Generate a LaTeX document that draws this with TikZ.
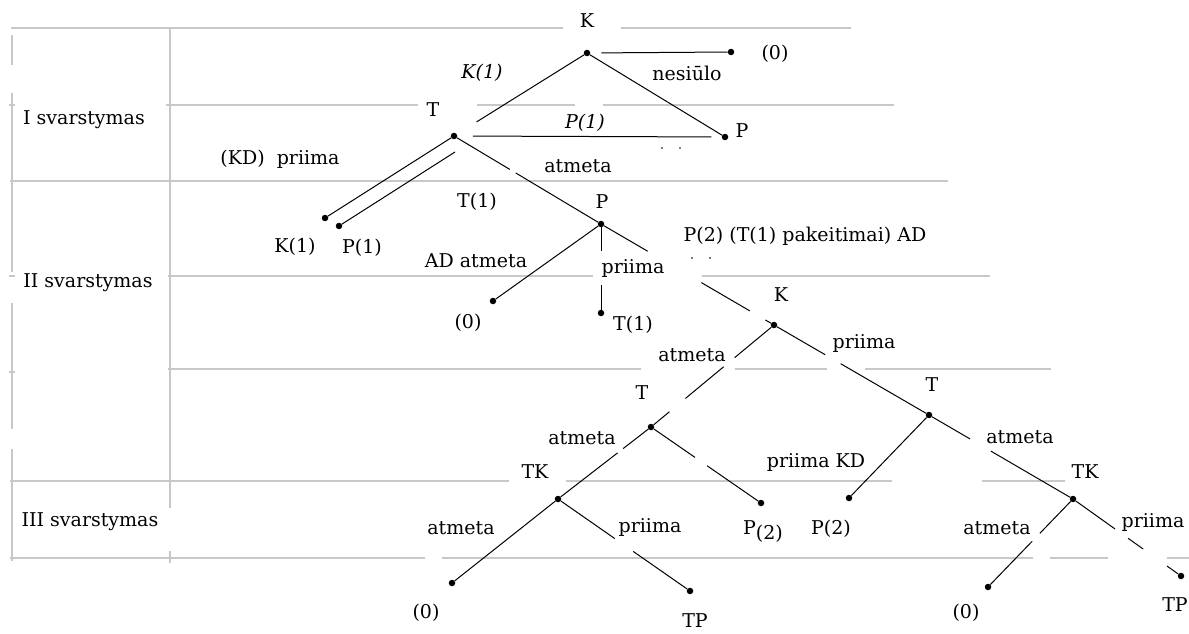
\documentclass[tikz,border=0pt]{standalone}
\usepackage{fontspec}
\setmainfont{DejaVu Serif}
\usetikzlibrary{calc}
\definecolor{gridgray}{RGB}{200,200,200}
\begin{document}
\begin{tikzpicture}[x=1pt,y=-1pt,
  gridln/.style={draw=gridgray, line width=1.4pt},
  edge/.style={draw=black, line width=1pt},
  dotn/.style={circle, fill=black, inner sep=0pt, minimum size=6.5pt},
  lbl/.style={inner sep=1pt, font=\fontsize{19}{22}\selectfont},
  ilbl/.style={lbl, font=\fontsize{19}{22}\selectfont\itshape},
  tiny/.style={circle, fill=black, inner sep=0pt, minimum size=1.8pt}]
\useasboundingbox (0,0) rectangle (1189,634);
\fill[white] (0,0) rectangle (1189,634);
% grid
\draw[gridln] (11,28)--(563,28) (621,28)--(851,28);
\draw[gridln] (166,105)--(418,105) (477,105)--(575,105) (603,105)--(894,105);
\draw[gridln] (10,181)--(948,181);
\draw[gridln] (168,276)--(593,276) (702,276)--(990,276);
\draw[gridln] (168,369)--(641,369) (735,369)--(827,369) (865,369)--(1051,369);
\draw[gridln, line width=2.4pt] (340,369)--(367,369) (404,369)--(478,369);
\draw[gridln] (10,481)--(509,481) (566,481)--(892,481) (982,481)--(1065,481);
\draw[gridln] (10,558)--(425,558) (442,558)--(1033,558) (1050,558)--(1108,558) (1167,558)--(1189,558);
\draw[gridln] (12,35)--(12,65) (12,93)--(12,272) (12,303)--(12,429) (12,449)--(12,561);
\draw[gridln] (170,28)--(170,508) (170,551)--(170,563);
\draw[gridln] (9,105)--(15,105) (9,276)--(15,276) (9,372)--(15,372);
% dots (nodes)
\node[dotn] (K1) at (587,53) {};
\node[dotn] (Z1) at (731,52) {};
\node[dotn] (P1) at (725,137) {};
\node[dotn] (T1) at (454,136) {};
\node[dotn] (K1a) at (325,218) {};
\node[dotn] (P1a) at (339,226) {};
\coordinate (T1s) at (455,152);
\node[dotn] (P2) at (601,224) {};
\node[dotn] (Z2) at (493,301) {};
\node[dotn] (T1b) at (601,313) {};
\node[dotn] (K2) at (774,325) {};
\node[dotn] (T2) at (651,427) {};
\node[dotn] (T3) at (929,415) {};
\node[dotn] (TK1) at (558,499) {};
\node[dotn] (P2a) at (761,503) {};
\node[dotn] (P2b) at (849,498) {};
\node[dotn] (TK2) at (1073,499) {};
\node[dotn] (Z3) at (452,583) {};
\node[dotn] (TP1) at (690,591) {};
\node[dotn] (Z4) at (988,587) {};
\node[dotn] (TP2) at (1181,576) {};
% edges
\draw[edge] (K1) -- ($(K1)!0.83!(T1)$);
\draw[edge] ($(K1)!0.1!(Z1)$) -- (Z1);
\draw[edge] (K1) -- (P1);
\draw[edge] ($(T1)!0.07!(P1)$) -- ($(T1)!0.95!(P1)$);
\draw[edge] (T1) -- (K1a);
\draw[edge] (T1s) -- (P1a);
\draw[edge] (T1) -- ($(T1)!0.38!(P2)$) ($(T1)!0.42!(P2)$) -- (P2);
\draw[edge] (P2) -- (Z2);
\draw[edge] (P2) -- ($(P2)!0.30!(T1b)$) ($(P2)!0.685!(T1b)$) -- (T1b);
\draw[edge] (P2) -- ($(P2)!0.27!(K2)$) ($(P2)!0.58!(K2)$) -- ($(P2)!0.86!(K2)$) ($(P2)!0.95!(K2)$) -- (K2);
\draw[edge] (K2) -- ($(K2)!0.32!(T2)$) ($(K2)!0.41!(T2)$) -- ($(K2)!0.72!(T2)$) ($(K2)!0.85!(T2)$) -- (T2);
\draw[edge] (K2) -- ($(K2)!0.33!(T3)$) ($(K2)!0.43!(T3)$) -- (T3);
\draw[edge] (T2) -- ($(T2)!0.3!(TK1)$) ($(T2)!0.36!(TK1)$) -- (TK1);
\draw[edge] (T2) -- ($(T2)!0.4!(P2a)$) ($(T2)!0.51!(P2a)$) -- (P2a);
\draw[edge] (T3) -- (P2b);
\draw[edge] (T3) -- ($(T3)!0.285!(TK2)$) ($(T3)!0.43!(TK2)$) -- (TK2);
\draw[edge] (TK1) -- (Z3);
\draw[edge] (TK1) -- ($(TK1)!0.43!(TP1)$) ($(TK1)!0.57!(TP1)$) -- (TP1);
\draw[edge] (TK2) -- ($(TK2)!0.39!(Z4)$) ($(TK2)!0.48!(Z4)$) -- (Z4);
\draw[edge] (TK2) -- ($(TK2)!0.39!(TP2)$) ($(TK2)!0.51!(TP2)$) -- ($(TK2)!0.65!(TP2)$) ($(TK2)!0.87!(TP2)$) -- (TP2);
% small dots
\node[tiny] (d1) at (662,148) {};
\node[tiny] (d2) at (680,148) {};
\node[tiny] (d3) at (692,258) {};
\node[tiny] (d4) at (710,258) {};
% labels
\node[lbl] (lK1) at (587,21) {K};
\node[lbl] (lZ1) at (775,54) {(0)};
\node[lbl] (lnes) at (687,73) {nesiūlo};
\node[ilbl] (lK1i) at (482,73) {K(1)};
\node[lbl] (lT1) at (433,110) {T};
\node[lbl] (lP1) at (742,131) {P};
\node[ilbl] (lP1i) at (585,123) {P(1)};
\node[lbl] (lI) at (84,120) {I svarstymas};
\node[lbl] (lKD) at (280,159) {(KD)\ \ priima};
\node[lbl] (lat1) at (578,166) {atmeta};
\node[lbl] (lT1a) at (477,202) {T(1)};
\node[lbl] (lP2) at (602,202) {P};
\node[lbl] (lK1a) at (295,247) {K(1)};
\node[lbl] (lP1a) at (362,248) {P(1)};
\node[lbl] (lADa) at (476,261) {AD atmeta};
\node[lbl] (lpr1) at (633,268) {priima};
\node[lbl] (lpak) at (805,236) {P(2) (T(1) pakeitimai) AD};
\node[lbl] (lT1b) at (633,325) {T(1)};
\node[lbl] (lZ2) at (468,323) {(0)};
\node[lbl] (lII) at (88,283) {II svarstymas};
\node[lbl] (lK2) at (781,295) {K};
\node[lbl] (lat2) at (692,355) {atmeta};
\node[lbl] (lpr2) at (864,343) {priima};
\node[lbl] (lT2) at (642,393) {T};
\node[lbl] (lT3) at (932,385) {T};
\node[lbl] (lat3) at (582,438) {atmeta};
\node[lbl] (lprKD) at (816,462) {priima KD};
\node[lbl] (lat4) at (1020,437) {atmeta};
\node[lbl] (lTK1) at (535,472) {TK};
\node[lbl] (lTK2) at (1085,472) {TK};
\node[lbl] (lIII) at (90,522) {III svarstymas};
\node[lbl] (lat5) at (461,528) {atmeta};
\node[lbl] (lpr3) at (650,527) {priima};
\node[lbl] (lP2a) at (763,532) {P\raisebox{-5pt}{(2)}};
\node[lbl] (lP2b) at (831,529) {P(2)};
\node[lbl] (lat6) at (997,528) {atmeta};
\node[lbl] (lpr4) at (1153,522) {priima};
\node[lbl] (lZ3) at (426,613) {(0)};
\node[lbl] (lTP1) at (695,621) {TP};
\node[lbl] (lZ4) at (966,613) {(0)};
\node[lbl] (lTP2) at (1175,605) {TP};
\end{tikzpicture}
\end{document}
